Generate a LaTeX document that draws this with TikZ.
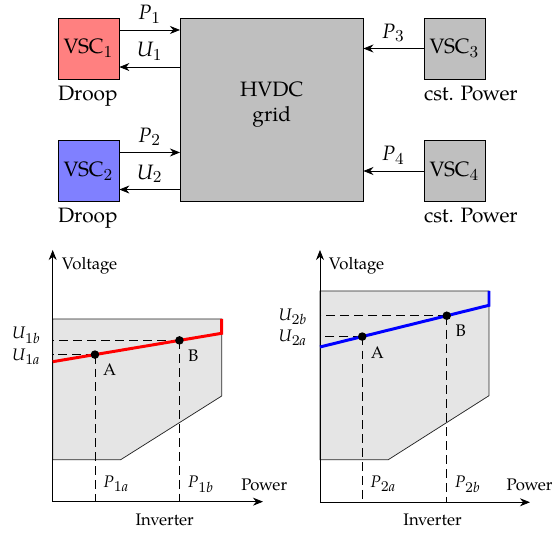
\documentclass[tikz,border=0pt]{standalone}
\usepackage{fontspec}
\setmainfont{TeX Gyre Pagella}
\DeclareSymbolFont{letters}{TU}{\rmdefault}{m}{it}
\DeclareMathSizes{9}{9}{7.6}{6}
\DeclareMathSizes{11.2}{11.2}{9.2}{7}
\usetikzlibrary{arrows.meta,calc}
\begin{document}
\begin{tikzpicture}[x=0.538pt,y=-0.538pt,
  topfont/.style={font=\fontsize{11.2}{13.4}\selectfont},
  plotfont/.style={font=\fontsize{9}{11}\selectfont},
  box/.style={draw, topfont, minimum width=32.8pt, minimum height=32.8pt, inner sep=0pt},
  arr/.style={-{Stealth[length=5.4pt,width=4.3pt]}},
  area/.style={fill=gray!20, draw=black!85},
  guide/.style={dash pattern=on 4.8pt off 2.7pt},
  dot/.style={fill=black}]
\useasboundingbox (0,0) rectangle (554,535);

% ---------- top: grid and converters ----------
\node[draw, fill=gray!50, minimum width=98.3pt, minimum height=98.3pt, inner sep=0pt] (g) at (271.7,109.7) {};
\node[topfont, align=center] (gt) at (271.7,105) {HVDC\\grid};
\node[box, fill=red!50]  (v1) at (88.5,48.5) {VSC$_1$};
\node[box, fill=blue!50] (v2) at (88.5,171) {VSC$_2$};
\node[box, fill=gray!50] (v3) at (454.5,48.5) {VSC$_3$};
\node[box, fill=gray!50] (v4) at (454.5,171) {VSC$_4$};

\node[topfont, anchor=north west, inner xsep=0pt] (d1) at (v1.south west) {Droop};
\node[topfont, anchor=north west, inner xsep=0pt] (d2) at (v2.south west) {Droop};
\node[topfont, anchor=north west, inner xsep=0pt] (c3) at (v3.south west) {cst. Power};
\node[topfont, anchor=north west, inner xsep=0pt] (c4) at (v4.south west) {cst. Power};

\coordinate (a1) at ($(v1.north east)!0.2!(v1.south east)$);
\coordinate (b1) at ($(v1.north east)!0.8!(v1.south east)$);
\coordinate (a2) at ($(v2.north east)!0.2!(v2.south east)$);
\coordinate (b2) at ($(v2.north east)!0.8!(v2.south east)$);
\draw[arr] (a1) -- (a1 -| g.west) node[topfont, midway, above] {$P_1$};
\draw[arr] (b1 -| g.west) -- (b1) node[topfont, midway, above] {$U_1$};
\draw[arr] (a2) -- (a2 -| g.west) node[topfont, midway, above] {$P_2$};
\draw[arr] (b2 -| g.west) -- (b2) node[topfont, midway, above] {$U_2$};
\draw[arr] (v3.west) -- (v3.west -| g.east) node[topfont, midway, above] {$P_3$};
\draw[arr] (v4.west) -- (v4.west -| g.east) node[topfont, midway, above] {$P_4$};

% ---------- left characteristic ----------
\begin{scope}[shift={(52.7,501.7)}, yscale=-1]
  \coordinate (o1) at (0,0);
  \coordinate (ya1) at (0,251.7);
  \coordinate (xa1) at (210.3,0);
  \draw[area] (0,182.7) -- (169,182.7) -- (169,105.7) -- (68,42) -- (0,42) -- cycle;
  \coordinate (ls1) at (0,140);
  \coordinate (le1) at (169,168.4);
  \coordinate (lt1) at (169,182.7);
  \coordinate (A1) at ($(ls1)!0.25!(le1)$);
  \coordinate (B1) at ($(ls1)!0.75!(le1)$);
  \draw[guide] (A1) -- (A1 -| o1);
  \draw[guide] (A1) -- (A1 |- o1);
  \draw[guide] (B1) -- (B1 -| o1);
  \draw[guide] (B1) -- (B1 |- o1);
  \draw[arr] (o1) -- (ya1);
  \draw[arr] (o1) -- (xa1);
  \draw[red, line width=1.6pt] (ls1) -- (le1) -- (lt1);
  \fill[dot] (A1) circle (2.3pt);
  \fill[dot] (B1) circle (2.3pt);
\end{scope}

% ---------- right characteristic ----------
\begin{scope}[shift={(320,502.3)}, yscale=-1]
  \coordinate (o2) at (0,0);
  \coordinate (ya2) at (0,252.3);
  \coordinate (xa2) at (210,0);
  \draw[area] (0,211.3) -- (169,211.3) -- (169,106.6) -- (68.3,42.6) -- (0,42.6) -- cycle;
  \coordinate (ls2) at (0,155.3);
  \coordinate (le2) at (169,197);
  \coordinate (lt2) at (169,211.3);
  \coordinate (A2) at ($(ls2)!0.25!(le2)$);
  \coordinate (B2) at ($(ls2)!0.75!(le2)$);
  \draw[guide] (A2) -- (A2 -| o2);
  \draw[guide] (A2) -- (A2 |- o2);
  \draw[guide] (B2) -- (B2 -| o2);
  \draw[guide] (B2) -- (B2 |- o2);
  \draw[arr] (o2) -- (ya2);
  \draw[arr] (o2) -- (xa2);
  \draw[blue, line width=1.6pt] (ls2) -- (le2) -- (lt2);
  \fill[dot] (A2) circle (2.3pt);
  \fill[dot] (B2) circle (2.3pt);
\end{scope}

% ---------- plot labels ----------
\begin{scope}[every node/.style={plotfont}]
\node (vl1) at (89.5,265.8) {Voltage};
\node (pw1) at (264.2,485) {Power};
\node (iv1) at (164.7,520) {Inverter};
\node (u1b) at (26.3,335) {$U_{1b}$};
\node (u1a) at (26.3,357) {$U_{1a}$};
\node (la1) at (109.7,370) {A};
\node (lb1) at (193.3,356) {B};
\node (p1a) at (116.3,484) {$P_{1a}$};
\node (p1b) at (201,484) {$P_{1b}$};

\node (vl2) at (356.5,265.8) {Voltage};
\node (pw2) at (529.5,485) {Power};
\node (iv2) at (432.5,520) {Inverter};
\node (u2b) at (292.8,316.7) {$U_{2b}$};
\node (u2a) at (292.8,337.5) {$U_{2a}$};
\node (la2) at (377.5,352.8) {A};
\node (lb2) at (460.8,330.8) {B};
\node (p2a) at (383.3,484) {$P_{2a}$};
\node (p2b) at (467.8,484) {$P_{2b}$};
\end{scope}
\end{tikzpicture}
\end{document}
